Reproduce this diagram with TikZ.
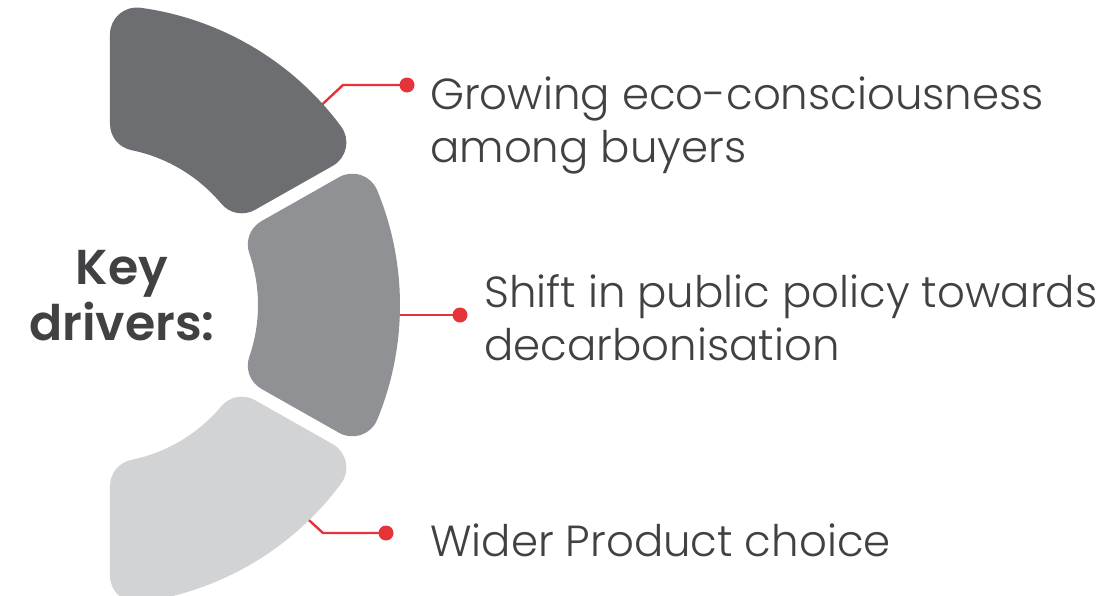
\documentclass[tikz,border=0pt]{standalone}
\usepackage{fontspec}
\setmainfont{Poppins}
\newfontfamily\itemfont{Poppins Light}
\newfontfamily\keyfont{Poppins SemiBold}
\usetikzlibrary{calc}

\definecolor{segdark}{HTML}{6D6E71}
\definecolor{segmid}{HTML}{8F9194}
\definecolor{seglight}{HTML}{D1D3D4}
\definecolor{linkred}{HTML}{E5333A}
\definecolor{inktext}{HTML}{414042}

% ring geometry (origin = ring centre), corners rounded by a thick round-joined stroke
\def\cornerR{27}
\def\split{29.5}
\pgfmathsetmacro\Ro{300-\cornerR}
\pgfmathsetmacro\Ri{158+\cornerR}
\pgfmathsetmacro\dd{6.5+\cornerR}
\pgfmathsetmacro\xl{10+\cornerR}
\pgfmathsetmacro\aA{\split+asin(\dd/\Ri)}
\pgfmathsetmacro\aB{\split+asin(\dd/\Ro)}
\pgfmathsetmacro\aC{acos(\xl/\Ro)}
\pgfmathsetmacro\aD{acos(\xl/\Ri)}
\pgfmathsetmacro\bA{\split-asin(\dd/\Ri)}
\pgfmathsetmacro\bB{\split-asin(\dd/\Ro)}

\tikzset{
  segment/.style={line width=2*\cornerR pt, line join=round},
  link/.style={draw=linkred, line width=2.4pt},
  linkdot/.style={circle, fill=linkred, minimum size=15pt, inner sep=0pt},
  itemtext/.style={anchor=base west, inner sep=0pt, text=inktext,
    font=\itemfont\fontsize{43.5}{53.5}\selectfont},
}

\begin{document}
\begin{tikzpicture}[x=1pt,y=1pt]
\useasboundingbox (-100,-290) rectangle (1010,305);
\clip (-100,-290) rectangle (1010,305);

% connectors (drawn first so the segments cover their start)
\coordinate (topstart) at (42:280);
\coordinate (topbend) at (243,220);
\node[linkdot] (topdot) at (307,220) {};
\coordinate (midstart) at (280,-10);
\node[linkdot] (middot) at (360,-10) {};
\coordinate (botstart) at (-46:285);
\coordinate (botbend) at (223,-228);
\node[linkdot] (botdot) at (286,-228) {};

\draw[link] (topstart) -- (topbend) -- (topdot.center);
\draw[link] (midstart) -- (middot.center);
\draw[link] (botstart) -- (botbend) -- (botdot.center);

% ring segments
\filldraw[segment, segdark]
  (\aA:\Ri) -- (\aB:\Ro) arc[start angle=\aB, end angle=\aC, radius=\Ro]
  -- (\aD:\Ri) arc[start angle=\aD, end angle=\aA, radius=\Ri] -- cycle;
\filldraw[segment, segmid]
  (\bA:\Ri) -- (\bB:\Ro) arc[start angle=\bB, end angle=-\bB, radius=\Ro]
  -- (-\bA:\Ri) arc[start angle=-\bA, end angle=\bA, radius=\Ri] -- cycle;
\filldraw[segment, seglight]
  (-\aA:\Ri) -- (-\aB:\Ro) arc[start angle=-\aB, end angle=-\aC, radius=\Ro]
  -- (-\aD:\Ri) arc[start angle=-\aD, end angle=-\aA, radius=\Ri] -- cycle;

% labels
\node[itemtext] (txtA) at (330,196)
  {\begin{tabular}[t]{@{}l@{}}Growing eco-consciousness\\among buyers\end{tabular}};
\node[itemtext] (txtB) at (384,-2)
  {\begin{tabular}[t]{@{}l@{}}Shift in public policy towards\\decarbonisation\end{tabular}};
\node[itemtext] (txtC) at (330,-251) {Wider Product choice};

\node[anchor=base, inner sep=0pt, text=inktext,
  font=\keyfont\fontsize{49}{56}\selectfont] (keylabel) at (22,21)
  {\begin{tabular}[t]{@{}c@{}}Key\\drivers:\end{tabular}};
\end{tikzpicture}
\end{document}
